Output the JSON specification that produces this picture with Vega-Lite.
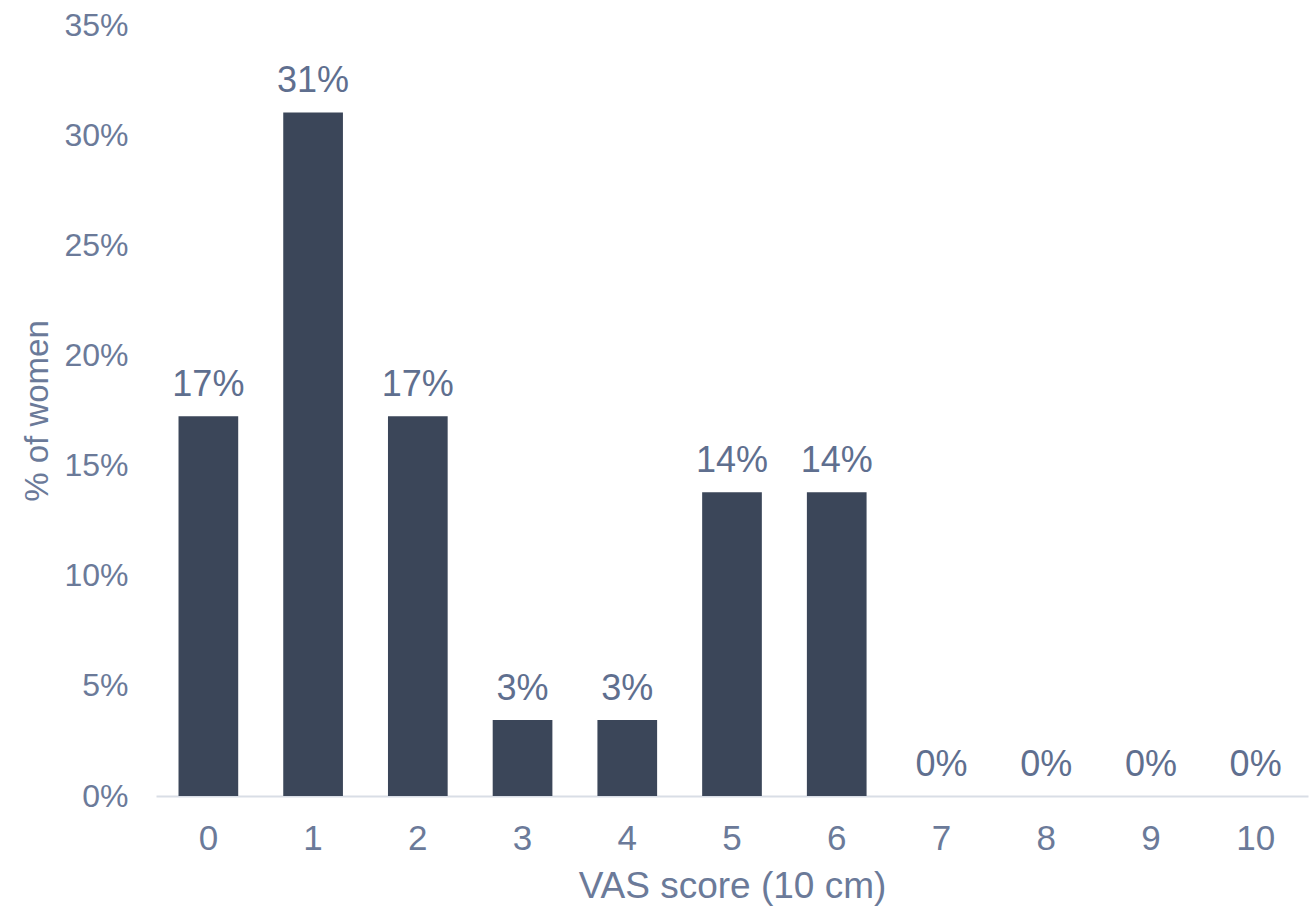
{
  "$schema": "https://vega.github.io/schema/vega-lite/v6.json",
  "width": 1152,
  "height": 771,
  "autosize": {"type": "none"},
  "padding": {"left": 156, "top": 25, "right": 4, "bottom": 114},
  "background": "white",
  "config": {
    "view": {"stroke": null},
    "font": "Liberation Sans"
  },
  "data": {
    "values": [
      {"score": "0", "pct": 0.1724},
      {"score": "1", "pct": 0.3103},
      {"score": "2", "pct": 0.1724},
      {"score": "3", "pct": 0.0345},
      {"score": "4", "pct": 0.0345},
      {"score": "5", "pct": 0.1379},
      {"score": "6", "pct": 0.1379},
      {"score": "7", "pct": 0},
      {"score": "8", "pct": 0},
      {"score": "9", "pct": 0},
      {"score": "10", "pct": 0}
    ]
  },
  "encoding": {
    "x": {
      "field": "score",
      "type": "ordinal",
      "sort": null,
      "scale": {"paddingInner": 0.43, "paddingOuter": 0.215},
      "axis": {
        "title": "VAS score (10 cm)",
        "labelAngle": 0,
        "labelFontSize": 35,
        "labelColor": "#6B7A99",
        "labelPadding": 25,
        "ticks": false,
        "domainColor": "#D9DEE6",
        "domainWidth": 2,
        "titleFontSize": 37,
        "titleFontWeight": "normal",
        "titleColor": "#6B7A99",
        "titlePadding": 12
      }
    },
    "y": {
      "field": "pct",
      "type": "quantitative",
      "scale": {"domain": [0, 0.35]},
      "axis": {
        "title": "% of women",
        "format": ".0%",
        "values": [0, 0.05, 0.1, 0.15, 0.2, 0.25, 0.3, 0.35],
        "grid": false,
        "domain": false,
        "ticks": false,
        "labelFontSize": 32,
        "labelColor": "#6B7A99",
        "labelPadding": 28,
        "titleFontSize": 33,
        "titleFontWeight": "normal",
        "titleColor": "#6B7A99",
        "titlePadding": 9
      }
    }
  },
  "layer": [
    {"mark": {"type": "bar", "color": "#3B4659"}},
    {
      "mark": {"type": "text", "baseline": "bottom", "dy": -12, "fontSize": 36, "color": "#5F6F8F"},
      "encoding": {"text": {"field": "pct", "type": "quantitative", "format": ".0%"}}
    }
  ]
}
